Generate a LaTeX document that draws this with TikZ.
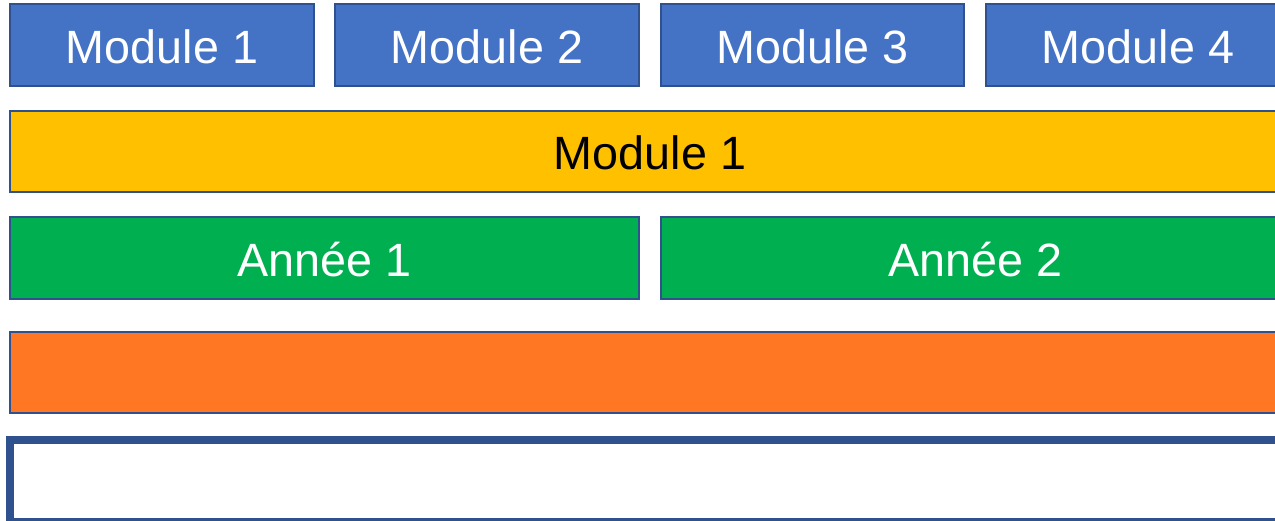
\documentclass[tikz,border=0pt]{standalone}
\usepackage{fontspec}
\setmainfont{Liberation Sans}
\definecolor{modblue}{HTML}{4472C4}
\definecolor{edge}{HTML}{2F528F}
\definecolor{gold}{HTML}{FFC000}
\definecolor{grn}{HTML}{00B050}
\definecolor{orng}{HTML}{FF7722}
\tikzset{
  bar/.style={draw=edge, line width=2.5pt, inner sep=0pt, outer sep=0pt, font=\fontsize{46.7}{50}\selectfont},
  modbox/.style={bar, fill=modblue, text=white},
}
\begin{document}
\begin{tikzpicture}[x=1pt,y=-1pt]
\useasboundingbox (0,0) rectangle (1275,520);
\clip (0,0) rectangle (1275,520);
\fill[white] (0,0) rectangle (1275,520);
% modules
\draw[modbox] (10,4) rectangle (314,86);
\draw[modbox] (335,4) rectangle (639,86);
\draw[modbox] (661,4) rectangle (964,86);
\draw[modbox] (986,4) rectangle (1290,86);
\node[text=white, font=\fontsize{46.7}{50}\selectfont] (m1) at (162,47) {Module 1};
\node[text=white, font=\fontsize{46.7}{50}\selectfont] (m2) at (487,47) {Module 2};
\node[text=white, font=\fontsize{46.7}{50}\selectfont] (m3) at (812.5,47) {Module 3};
\node[text=white, font=\fontsize{46.7}{50}\selectfont] (m4) at (1138,47) {Module 4};
% yellow
\draw[bar, fill=gold] (10,111) rectangle (1290,192);
\node[text=black, font=\fontsize{46.7}{50}\selectfont] (y1) at (650,153) {Module 1};
% green
\draw[bar, fill=grn] (10,217) rectangle (639,299);
\draw[bar, fill=grn] (661,217) rectangle (1290,299);
\node[text=white, font=\fontsize{46.7}{50}\selectfont] (a1) at (324.5,260) {Année 1};
\node[text=white, font=\fontsize{46.7}{50}\selectfont] (a2) at (975.5,260) {Année 2};
% orange
\draw[bar, fill=orng] (10,332) rectangle (1290,413);
% bottom frame
\draw[draw=edge, line width=8pt, fill=white] (10,439.5) rectangle (1300,522);
\end{tikzpicture}
\end{document}
